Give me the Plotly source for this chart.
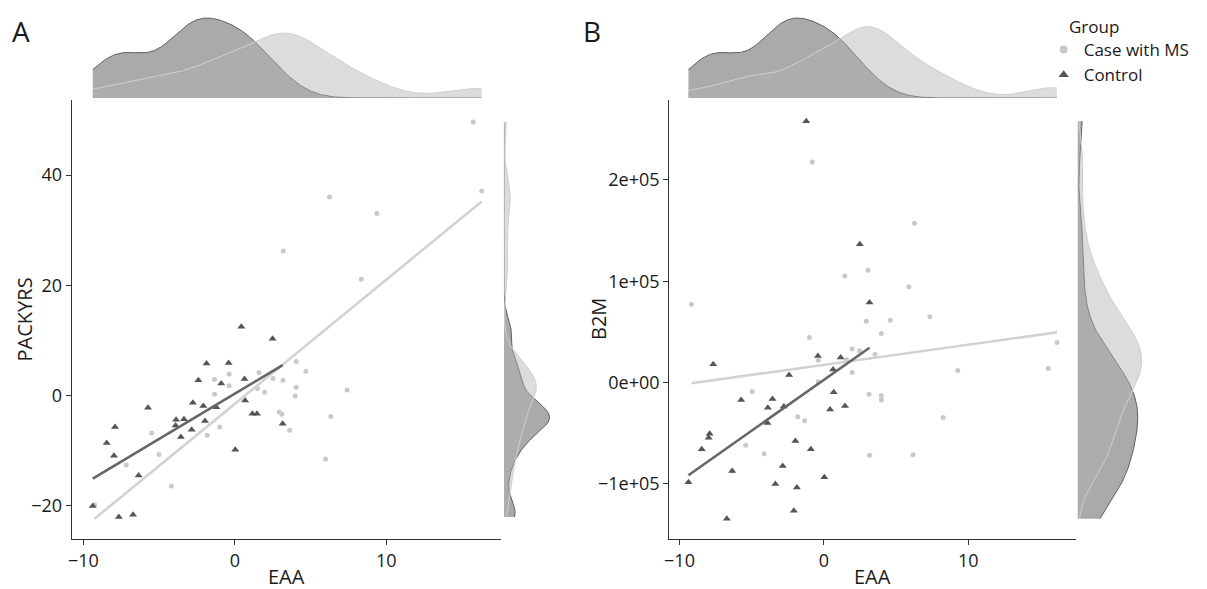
import numpy as np
import plotly.graph_objects as go

W, H = 1207, 589

# ---------------- data ----------------
eaa_control = [-9.38, -8.46, -7.98, -7.91, -7.66, -6.72, -6.35, -5.73, -3.91, -3.88,
               -3.56, -3.36, -2.85, -2.77, -2.41, -2.08, -1.97, -1.87, -1.22, -0.90,
               -0.41, 0.03, 0.43, 0.64, 0.68, 1.16, 1.46, 2.49, 3.16]
packyrs_control = [-20.0, -8.6, -10.9, -5.7, -22.0, -21.6, -14.5, -2.2, -5.4, -4.4,
                   -7.5, -4.3, -6.2, -1.3, 2.8, -1.9, -4.6, 5.8, -2.1, 2.2,
                   5.9, -9.8, 12.5, 3.0, -0.9, -3.3, -3.3, 10.3, -5.1]
b2m_control = [-98700, -66000, -54700, -50700, 18000, -134600, -87600, -17500, -40000, -25000,
               -16500, -100400, -82600, -23700, 7200, -126800, -58000, -103700, 258000, -66000,
               26000, -93800, -26700, 12800, -9600, 24700, -23400, 136500, 79000]

eaa_case_a = [15.74, 16.3, 6.25, 9.38, 3.2, 8.35, 4.05, 4.69, -0.38, 1.6,
              -1.34, -0.38, 2.52, 3.18, 1.49, 1.97, 4.05, 7.41, -1.34, 3.99,
              2.94, 3.11, 3.62, 6.34, 5.99, -1.0, -1.82, -5.49, -5.0, -7.17,
              -4.19, -9.26]
packyrs_case = [49.6, 37.1, 36.0, 33.0, 26.2, 21.1, 6.2, 4.4, 3.9, 4.2,
                2.9, 1.8, 3.1, 2.8, 1.3, 0.6, 1.5, 1.0, 0.25, -0.05,
                -2.95, -3.4, -6.3, -3.8, -11.5, -5.7, -7.2, -6.8, -10.7, -12.6,
                -16.4, -19.8]

eaa_case_b = [-0.8, 6.28, 1.45, 3.06, 5.89, -9.17, 2.94, 4.6, 7.34, -1.0,
              3.98, 16.14, 1.96, 2.48, 3.54, -0.39, 1.57, 1.96, 9.27, 15.54,
              -0.39, -4.97, 3.13, 3.98, 3.98, -1.81, -1.33, 8.26, -5.42, -4.14,
              3.17, 6.17, -6.35]
b2m_case = [217800, 157300, 105200, 110900, 94400, 77300, 60500, 61500, 64800, 44400,
            48400, 39500, 32900, 31200, 27900, 22000, 22700, 9900, 11800, 13800,
            600, -8900, -11800, -13000, -17500, -34000, -37900, -34600, -62200, -70500,
            -72000, -71400, -87600]

groups = ["Case with MS", "Control"]
x_ticks = [-10, 0, 10]
ya_ticks = [-20, 0, 20, 40]
yb_ticks = [-100000, 0, 100000, 200000]
yb_ticktext = ["\u22121e+05", "0e+00", "1e+05", "2e+05"]

# ---------------- styles ----------------
CASE_PT = "#c9c9c9"
CTRL_PT = "#555555"
CASE_LINE = "#d2d2d2"
CTRL_LINE = "#666666"
CASE_FILL = "rgba(178,178,178,0.45)"
CTRL_FILL = "rgb(170,170,170)"
CASE_EDGE = "#cfcfcf"
CTRL_EDGE = "#5f5f5f"
FONT = "Open Sans"
TXT = "#1a1a1a"


def px_x(p):
    return p / W


def px_y(p):
    return (H - p) / H


def kde(data, grid):
    d = np.asarray(data, float)
    n = len(d)
    sd = d.std(ddof=1)
    iqr = np.percentile(d, 75) - np.percentile(d, 25)
    bw = 0.9 * min(sd, iqr / 1.34) * n ** (-0.2)
    z = (grid[:, None] - d[None, :]) / bw
    return np.exp(-0.5 * z ** 2).sum(axis=1) / (n * bw * np.sqrt(2 * np.pi))


def fit_line(x, y):
    x = np.asarray(x, float)
    y = np.asarray(y, float)
    b, a = np.polyfit(x, y, 1)
    xs = np.linspace(x.min(), x.max(), 50)
    return xs, a + b * xs


fig = go.Figure()

panels = [
    dict(name="A", xa="x", ya="y", xt="x2", yt="y2", xr="x3", yr="y3",
         case_x=eaa_case_a, case_y=packyrs_case, ctrl_y=packyrs_control),
    dict(name="B", xa="x4", ya="y4", xt="x5", yt="y5", xr="x6", yr="y6",
         case_x=eaa_case_b, case_y=b2m_case, ctrl_y=b2m_control),
]

dens_max = {}
for p in panels:
    cx, cy = p["case_x"], p["case_y"]
    kx, ky = eaa_control, p["ctrl_y"]
    # scatter
    fig.add_trace(go.Scatter(x=cx, y=cy, mode="markers", name=groups[0],
                             marker=dict(symbol="circle", size=5, color=CASE_PT),
                             xaxis=p["xa"], yaxis=p["ya"], showlegend=False))
    fig.add_trace(go.Scatter(x=kx, y=ky, mode="markers", name=groups[1],
                             marker=dict(symbol="triangle-up", size=7, color=CTRL_PT),
                             xaxis=p["xa"], yaxis=p["ya"], showlegend=False))
    # regression lines
    lx, ly = fit_line(cx, cy)
    fig.add_trace(go.Scatter(x=lx, y=ly, mode="lines", line=dict(color=CASE_LINE, width=2.6),
                             xaxis=p["xa"], yaxis=p["ya"], showlegend=False, hoverinfo="skip"))
    lx, ly = fit_line(kx, ky)
    fig.add_trace(go.Scatter(x=lx, y=ly, mode="lines", line=dict(color=CTRL_LINE, width=2.6),
                             xaxis=p["xa"], yaxis=p["ya"], showlegend=False, hoverinfo="skip"))
    # top marginal densities
    allx = np.concatenate([cx, kx])
    gx = np.linspace(allx.min(), allx.max(), 300)
    dkx = kde(kx, gx)
    dcx = kde(cx, gx)
    fig.add_trace(go.Scatter(x=gx, y=dkx, mode="lines", fill="tozeroy", fillcolor=CTRL_FILL,
                             line=dict(color=CTRL_EDGE, width=1), xaxis=p["xt"], yaxis=p["yt"],
                             showlegend=False, hoverinfo="skip"))
    fig.add_trace(go.Scatter(x=gx, y=dcx, mode="lines", fill="tozeroy", fillcolor=CASE_FILL,
                             line=dict(color=CASE_EDGE, width=1), xaxis=p["xt"], yaxis=p["yt"],
                             showlegend=False, hoverinfo="skip"))
    # right marginal densities
    ally = np.concatenate([cy, ky])
    gy = np.linspace(ally.min(), ally.max(), 300)
    dky = kde(ky, gy)
    dcy = kde(cy, gy)
    fig.add_trace(go.Scatter(x=dky, y=gy, mode="lines", fill="tozerox", fillcolor=CTRL_FILL,
                             line=dict(color=CTRL_EDGE, width=1), xaxis=p["xr"], yaxis=p["yr"],
                             showlegend=False, hoverinfo="skip"))
    fig.add_trace(go.Scatter(x=dcy, y=gy, mode="lines", fill="tozerox", fillcolor=CASE_FILL,
                             line=dict(color=CASE_EDGE, width=1), xaxis=p["xr"], yaxis=p["yr"],
                             showlegend=False, hoverinfo="skip"))
    dens_max[p["name"]] = (max(dkx.max(), dcx.max()), max(dky.max(), dcy.max()))

# legend entries (larger key symbols, as in the reference)
fig.add_trace(go.Scatter(x=[None], y=[None], mode="markers", name=groups[0],
                         marker=dict(symbol="circle", size=8, color=CASE_PT),
                         xaxis="x4", yaxis="y4", showlegend=True, legendrank=1))
fig.add_trace(go.Scatter(x=[None], y=[None], mode="markers", name=groups[1],
                         marker=dict(symbol="triangle-up", size=9, color=CTRL_PT),
                         xaxis="x4", yaxis="y4", showlegend=True, legendrank=2))

main_dom_y = [px_y(539), px_y(100)]
top_dom_y = [px_y(98), px_y(14)]

axis_common = dict(showgrid=False, zeroline=False, showline=True, linecolor="#333333",
                   linewidth=1.1, ticks="outside", ticklen=5, tickwidth=1.1, tickcolor="#333333",
                   tickfont=dict(family=FONT, size=18, color=TXT))
hidden = dict(visible=False, showgrid=False, zeroline=False, fixedrange=True)

fig.update_layout(
    width=W, height=H, margin=dict(l=0, r=0, t=0, b=0),
    paper_bgcolor="white", plot_bgcolor="white",
    font=dict(family=FONT, color=TXT),
    # Panel A
    xaxis=dict(domain=[px_x(67), px_x(498)], range=[-10.77, 17.57], anchor="y",
               tickvals=x_ticks, **axis_common),
    yaxis=dict(domain=main_dom_y, range=[-26.0, 53.6], anchor="x",
               tickvals=ya_ticks, **axis_common),
    xaxis2=dict(domain=[px_x(67), px_x(498)], range=[-10.77, 17.57], anchor="y2", **hidden),
    yaxis2=dict(domain=top_dom_y, range=[0, dens_max["A"][0] * 1.05], anchor="x2", **hidden),
    xaxis3=dict(domain=[px_x(501), px_x(553)], range=[0, dens_max["A"][1] / 0.88], anchor="y3", **hidden),
    yaxis3=dict(domain=main_dom_y, range=[-26.0, 53.6], anchor="x3", **hidden),
    # Panel B
    xaxis4=dict(domain=[px_x(667), px_x(1075)], range=[-10.71, 17.43], anchor="y4",
                tickvals=x_ticks, **axis_common),
    yaxis4=dict(domain=main_dom_y, range=[-154700, 279000], anchor="x4",
                tickvals=yb_ticks, ticktext=yb_ticktext, **axis_common),
    xaxis5=dict(domain=[px_x(667), px_x(1075)], range=[-10.71, 17.43], anchor="y5", **hidden),
    yaxis5=dict(domain=top_dom_y, range=[0, dens_max["B"][0] * 1.05], anchor="x5", **hidden),
    xaxis6=dict(domain=[px_x(1077), px_x(1147)], range=[0, dens_max["B"][1] / 0.92], anchor="y6", **hidden),
    yaxis6=dict(domain=main_dom_y, range=[-154700, 279000], anchor="x6", **hidden),
    legend=dict(x=px_x(1043), y=px_y(32), xanchor="left", yanchor="top",
                font=dict(family=FONT, size=17, color=TXT), bgcolor="rgba(0,0,0,0)",
                tracegroupgap=0, itemwidth=30),
    showlegend=True,
)

ann = [
    dict(text="A", x=px_x(5), y=px_y(31), xanchor="left", yanchor="middle", font=dict(size=28)),
    dict(text="B", x=px_x(578), y=px_y(31), xanchor="left", yanchor="middle", font=dict(size=28)),
    dict(text="EAA", x=px_x(282.5), y=px_y(576), xanchor="center", yanchor="middle", font=dict(size=20)),
    dict(text="EAA", x=px_x(871), y=px_y(576), xanchor="center", yanchor="middle", font=dict(size=20)),
    dict(text="PACKYRS", x=px_x(20), y=px_y(319.5), xanchor="center", yanchor="middle",
         textangle=-90, font=dict(size=20)),
    dict(text="B2M", x=px_x(596), y=px_y(319.5), xanchor="center", yanchor="middle",
         textangle=-90, font=dict(size=20)),
    dict(text="Group", x=px_x(1066), y=px_y(27), xanchor="left", yanchor="middle", font=dict(size=17)),
]
for a in ann:
    a.update(xref="paper", yref="paper", showarrow=False)
    a["font"].update(family=FONT, color=TXT)
fig.update_layout(annotations=ann)

fig.write_html("out.html")
